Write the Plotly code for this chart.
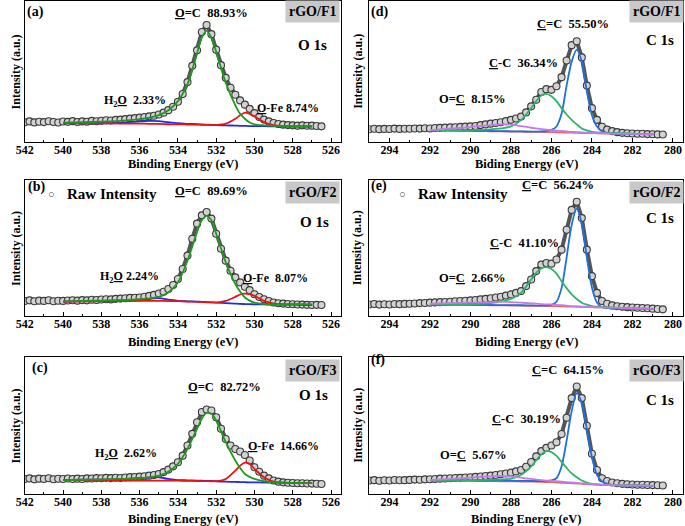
import numpy as np
import plotly.graph_objects as go
from plotly.subplots import make_subplots

# energy grids (eV)
o_raw_e = np.arange(542.0, 526.49, -0.25)
c_raw_e = np.arange(295.0, 280.49, -0.25)
o_fit_e = [540, 539, 538, 537, 536, 535.5, 535, 534.5, 534, 533.5, 533, 532.75, 532.5,
           532.25, 532, 531.5, 531, 530.75, 530.5, 530.25, 530, 529.5, 529, 528.5, 528, 527]
c_fit_e = [292, 291, 290, 289.5, 289, 288.5, 288, 287.5, 287, 286.75, 286.5, 286.25, 286,
           285.75, 285.5, 285.25, 285, 284.75, 284.5, 284.25, 284, 283.75, 283.5, 283, 282, 281]

# O 1s raw intensity (a.u.)
a_raw = [14.0, 14.6, 13.9, 14.4, 14.1, 14.7, 14.2, 13.8,
         14.5, 14.3, 14.8, 14.2, 14.6, 14.4, 15.0, 14.7,
         15.1, 15.4, 15.2, 15.7, 15.9, 16.2, 16.6, 16.9,
         17.3, 17.7, 18.2, 18.6, 19.5, 20.8, 22.6, 25.0,
         28.5, 34.0, 42.5, 54.0, 65.0, 78.0, 83.0, 76.5,
         65.5, 54.5, 45.5, 38.5, 33.5, 29.5, 26.5, 23.5,
         20.5, 17.8, 15.9, 14.6, 13.5, 12.8, 12.3, 12.0,
         11.8, 11.6, 11.8, 11.5, 11.6, 11.3, 11.1]
b_raw = [11.0, 11.5, 10.8, 11.3, 11.1, 11.6, 10.9, 11.2,
         11.1, 11.4, 11.6, 11.3, 11.7, 11.5, 12.0, 11.8,
         12.1, 12.3, 12.2, 12.6, 12.8, 13.0, 13.3, 13.4,
         13.6, 14.1, 14.8, 15.5, 16.5, 17.8, 19.8, 22.8,
         27.2, 34.6, 44.4, 56.8, 67.9, 74.0, 76.5, 71.6,
         60.5, 49.4, 40.7, 33.3, 28.4, 24.7, 21.5, 19.0,
         16.0, 14.0, 12.3, 11.0, 9.9, 9.4, 9.1, 8.8,
         8.6, 8.5, 8.4, 8.2, 8.1, 8.2, 8.1]
c_raw = [11.0, 11.4, 10.7, 11.2, 11.0, 11.5, 10.8, 11.1,
         11.0, 11.3, 10.9, 11.2, 11.0, 11.4, 11.3, 11.6,
         11.5, 11.8, 11.6, 11.9, 11.7, 12.0, 12.3, 12.4,
         12.7, 13.0, 13.4, 13.9, 14.6, 16.0, 17.8, 20.2,
         23.2, 28.0, 35.4, 43.9, 52.4, 59.8, 61.7, 61.0,
         56.0, 47.6, 40.2, 35.4, 32.9, 31.0, 28.5, 24.4,
         19.5, 16.2, 13.4, 11.4, 9.8, 9.0, 8.5, 8.2,
         8.0, 7.9, 7.8, 7.7, 7.6, 7.5, 7.3]

# O 1s fitted components
a_h2o = [13.5, 13.3, 13.3, 13.6, 14.6, 15.0, 14.8, 14.0, 13.3, 12.9, 12.6, 12.4, 12.3,
         12.2, 12.0, 11.8, 11.6, 11.5, 11.4, 11.3, 11.3, 11.2, 11.1, 11.0, 10.9, 10.9]
a_ofe = [13.5, 13.3, 13.2, 13.1, 13.0, 12.9, 12.8, 12.6, 12.5, 12.4, 12.3, 12.2, 12.1,
         12.0, 12.0, 13.0, 16.5, 19.0, 20.8, 20.0, 18.2, 14.2, 11.9, 11.2, 11.1, 11.1]
a_oc = [13.8, 14.0, 14.4, 15.0, 16.2, 17.2, 19.0, 22.5, 29.0, 41.0, 63.0, 74.0, 79.0,
        74.0, 64.0, 42.0, 26.0, 20.0, 16.5, 13.8, 12.5, 11.8, 11.5, 11.3, 11.3, 11.3]
b_h2o = [10.6, 10.9, 11.1, 11.4, 11.9, 12.6, 13.1, 12.1, 11.1, 10.8, 10.6, 10.4, 10.2,
         10.0, 9.9, 9.5, 9.1, 8.9, 8.8, 8.7, 8.6, 8.5, 8.4, 8.4, 8.3, 8.1]
b_ofe = [10.6, 10.8, 10.9, 11.0, 11.1, 11.1, 11.1, 11.0, 10.9, 10.6, 10.4, 10.3, 10.1,
         10.0, 9.9, 11.1, 14.1, 15.8, 16.5, 16.0, 14.8, 11.1, 9.1, 8.6, 8.5, 8.4]
b_oc = [10.8, 11.1, 11.3, 11.6, 12.3, 13.0, 14.0, 17.3, 24.7, 40.7, 61.7, 70.4, 73.6,
        70.4, 60.5, 39.5, 23.5, 18.0, 13.6, 11.3, 9.9, 8.8, 8.6, 8.6, 8.6, 8.6]
c_h2o = [10.2, 10.4, 10.5, 10.8, 11.5, 12.1, 12.2, 11.0, 10.2, 10.0, 9.8, 9.7, 9.6,
         9.5, 9.3, 9.0, 8.8, 8.7, 8.6, 8.5, 8.5, 8.4, 8.3, 8.2, 8.1, 8.0]
c_ofe = [10.2, 10.1, 10.0, 9.9, 9.8, 9.8, 9.8, 9.7, 9.7, 9.6, 9.5, 9.4, 9.4,
         9.3, 9.4, 11.0, 17.0, 20.7, 22.9, 22.0, 18.3, 12.2, 9.0, 8.3, 8.1, 8.0]
c_oc = [10.2, 10.4, 10.6, 11.0, 11.5, 12.2, 13.4, 16.3, 22.0, 32.9, 47.6, 54.9, 59.3,
        58.5, 53.7, 37.8, 24.4, 19.0, 14.6, 12.5, 11.0, 9.3, 8.5, 8.2, 8.1, 8.0]

# C 1s raw intensity (a.u.)
d_raw = [9.0, 9.4, 9.1, 9.3, 9.2, 9.5, 9.3, 9.4,
         9.4, 9.6, 9.5, 9.8, 9.6, 9.9, 10.0, 10.2,
         10.4, 10.5, 10.7, 10.9, 11.1, 11.4, 12.0, 12.5,
         13.0, 13.5, 14.0, 14.8, 15.7, 16.7, 18.0, 21.0,
         25.3, 30.0, 35.5, 37.5, 37.0, 39.5, 46.0, 57.8,
         68.7, 71.5, 60.0, 40.0, 24.0, 15.7, 10.8, 8.8,
         7.7, 7.0, 6.5, 6.2, 6.0, 5.9, 5.8, 5.6,
         5.5, 5.4, 5.3]
e_raw = [8.5, 8.8, 8.4, 8.6, 8.5, 8.8, 8.7, 8.9,
         9.0, 9.2, 9.5, 9.6, 9.8, 10.0, 10.2, 10.3,
         10.5, 10.8, 11.0, 11.2, 11.5, 11.8, 12.2, 12.6,
         13.0, 13.6, 14.1, 15.0, 15.9, 17.0, 18.3, 22.0,
         26.8, 33.0, 37.8, 39.0, 38.5, 41.5, 48.8, 63.4,
         78.0, 84.0, 72.0, 48.8, 29.3, 17.0, 11.0, 9.0,
         7.8, 7.2, 6.8, 6.5, 6.3, 6.1, 5.9, 5.7,
         5.4, 5.1, 4.9]
f_raw = [9.8, 10.1, 9.7, 10.0, 9.8, 10.2, 10.0, 10.1,
         10.3, 10.5, 10.4, 10.7, 10.8, 11.0, 11.2, 11.3,
         11.5, 11.7, 11.8, 12.0, 12.2, 12.5, 12.8, 13.1,
         13.4, 13.9, 14.4, 15.0, 15.6, 16.5, 17.5, 19.9,
         23.4, 27.5, 31.3, 33.7, 35.4, 37.8, 43.8, 55.7,
         70.0, 78.5, 70.0, 49.8, 29.4, 17.5, 11.5, 9.5,
         8.4, 7.8, 7.4, 7.1, 6.9, 6.8, 6.7, 6.6,
         6.5, 6.4, 6.2]

# C 1s fitted components
d_bg = [8.2, 8.0, 7.8, 7.7, 7.6, 7.5, 7.4, 7.3, 7.2, 7.15, 7.1, 7.05, 7.0,
        6.9, 6.8, 6.7, 6.6, 6.5, 6.4, 6.35, 6.3, 6.2, 6.1, 6.0, 5.8, 5.5]
d_csp2 = [8.4, 8.2, 8.0, 7.9, 7.8, 7.7, 7.6, 7.5, 7.4, 7.4, 7.5, 7.8, 8.6,
          11.0, 20.0, 40.0, 57.0, 65.5, 57.0, 36.0, 19.0, 11.0, 7.5, 6.2, 5.8, 5.5]
d_csp3 = [8.4, 8.2, 8.3, 8.6, 9.0, 9.6, 11.0, 15.5, 24.0, 29.0, 33.0, 34.2, 32.5,
          29.0, 24.0, 19.5, 15.7, 12.5, 9.6, 8.2, 7.2, 6.8, 6.5, 6.2, 5.9, 5.6]
d_oc = [8.4, 9.4, 10.6, 11.4, 12.0, 12.5, 12.3, 11.3, 10.1, 9.6, 9.1, 8.7, 8.4,
        8.1, 7.8, 7.5, 7.2, 7.0, 6.8, 6.6, 6.5, 6.3, 6.2, 6.0, 5.8, 5.5]
e_bg = [8.5, 8.3, 8.1, 8.0, 7.9, 7.8, 7.7, 7.6, 7.5, 7.45, 7.4, 7.35, 7.3,
        7.2, 7.1, 7.0, 6.9, 6.8, 6.7, 6.6, 6.5, 6.4, 6.3, 6.1, 5.6, 5.3]
e_csp2 = [8.5, 8.4, 8.3, 8.2, 8.1, 8.0, 8.0, 7.9, 7.8, 7.7, 7.6, 7.7, 8.2,
          10.5, 20.5, 43.0, 67.0, 79.0, 68.0, 43.0, 21.0, 10.0, 6.5, 5.5, 5.2, 5.0]
e_csp3 = [8.5, 8.4, 8.5, 8.9, 9.5, 10.5, 12.5, 17.0, 26.8, 31.7, 35.0, 36.0, 34.6,
          31.2, 25.6, 20.5, 15.9, 12.5, 9.8, 8.3, 7.3, 6.9, 6.6, 6.2, 5.5, 5.2]
e_oc = [9.0, 9.4, 9.8, 10.0, 10.2, 10.5, 10.2, 9.8, 9.3, 9.1, 8.8, 8.6, 8.5,
        8.2, 7.9, 7.6, 7.3, 7.1, 6.9, 6.7, 6.6, 6.4, 6.3, 6.1, 5.6, 5.4]
f_bg = [10.0, 9.8, 9.6, 9.5, 9.4, 9.3, 9.2, 9.1, 9.0, 8.9, 8.8, 8.7, 8.6,
        8.4, 8.2, 8.0, 7.8, 7.6, 7.4, 7.2, 7.0, 6.8, 6.7, 6.5, 6.2, 6.0]
f_csp2 = [10.0, 9.9, 9.9, 9.8, 9.8, 9.8, 9.7, 9.6, 9.5, 9.5, 9.5, 9.6, 9.9,
          11.5, 20.0, 39.0, 60.5, 73.7, 66.5, 47.4, 27.0, 13.9, 9.1, 6.7, 6.2, 6.0]
f_csp3 = [10.0, 10.0, 10.1, 10.2, 10.4, 10.6, 11.2, 13.9, 19.9, 24.6, 28.9, 31.3, 30.6,
          27.8, 23.4, 19.0, 15.0, 12.2, 9.8, 8.4, 7.4, 7.0, 6.7, 6.5, 6.2, 6.0]
f_oc = [10.3, 11.0, 12.0, 12.5, 12.9, 13.2, 12.7, 12.0, 11.0, 10.5, 10.1, 9.8, 9.6,
        9.3, 9.0, 8.7, 8.4, 8.1, 7.8, 7.5, 7.2, 7.0, 6.8, 6.5, 6.2, 6.0]

W, H = 685, 526
SERIF = "Liberation Serif"
O_BLUE, O_RED, O_GREEN = "#1f2de6", "#f01010", "#1f9a1f"
C_BLUE, C_GREEN, C_PURPLE, C_BG = "#1f6fde", "#2fb36a", "#c57ae6", "#e06a6a"

fig = make_subplots(rows=3, cols=2)

o_panels = [(1, a_raw, a_h2o, a_ofe, a_oc), (2, b_raw, b_h2o, b_ofe, b_oc), (3, c_raw, c_h2o, c_ofe, c_oc)]
c_panels = [(1, d_raw, d_bg, d_csp2, d_csp3, d_oc), (2, e_raw, e_bg, e_csp2, e_csp3, e_oc),
            (3, f_raw, f_bg, f_csp2, f_csp3, f_oc)]

raw_marker = dict(symbol="circle", size=7, color="#d2d2d2", line=dict(color="#3a3a3a", width=1.1))
raw_line = dict(color="#555555", width=4)


def raw_trace(x, y):
    return go.Scatter(x=x, y=y, mode="lines+markers", marker=raw_marker, line=raw_line,
                      showlegend=False, hoverinfo="skip")


def fit_line(x, y, color):
    return go.Scatter(x=x, y=y, mode="lines", line=dict(color=color, width=1.8, shape="spline", smoothing=0.8),
                      showlegend=False, hoverinfo="skip")


for row, raw, h2o, ofe, oc in o_panels:
    fig.add_trace(raw_trace(o_raw_e, raw), row=row, col=1)
    fig.add_trace(fit_line(o_fit_e, h2o, O_BLUE), row=row, col=1)
    fig.add_trace(fit_line(o_fit_e, ofe, O_RED), row=row, col=1)
    fig.add_trace(fit_line(o_fit_e, oc, O_GREEN), row=row, col=1)

for row, raw, bg, csp2, csp3, oc in c_panels:
    fig.add_trace(raw_trace(c_raw_e, raw), row=row, col=2)
    fig.add_trace(fit_line(c_fit_e, bg, C_BG), row=row, col=2)
    fig.add_trace(fit_line(c_fit_e, csp2, C_BLUE), row=row, col=2)
    fig.add_trace(fit_line(c_fit_e, csp3, C_GREEN), row=row, col=2)
    fig.add_trace(fit_line(c_fit_e, oc, C_PURPLE), row=row, col=2)

# panel geometry (pixels)
col_x = {1: (16, 336), 2: (365, 683)}
row_y = {1: (1, 142), 2: (180, 316), 3: (357, 494)}

tickfont = dict(family=SERIF, size=12, color="black", weight="bold")
for row in (1, 2, 3):
    for col in (1, 2):
        x0, x1 = col_x[col]
        y0, y1 = row_y[row]
        if col == 1:
            rng, t0 = [542, 525.5], 526
        else:
            rng, t0 = [295, 279.5], 280
        fig.update_xaxes(domain=[x0 / W, x1 / W], range=rng, tickmode="linear", tick0=t0, dtick=2,
                         showline=True, linecolor="black", linewidth=1, mirror=True,
                         ticks="inside", ticklen=4, tickcolor="black", tickfont=tickfont,
                         ticklabelstandoff=-3,
                         minor=dict(ticks="inside", ticklen=2.5, dtick=1, tickcolor="black"),
                         showgrid=False, zeroline=False, row=row, col=col)
        fig.update_yaxes(domain=[1 - y1 / H, 1 - y0 / H], range=[0, 100], showline=True, linecolor="black",
                         linewidth=1, mirror=True, ticks="", showticklabels=False, showgrid=False,
                         zeroline=False, row=row, col=col)


def U(s):
    return '<span style="text-decoration:underline">' + s + '</span>'


anns = []


def ann(text, x, y, size, xanchor="center", bg=None, angle=0, color="black"):
    d = dict(text="<b>" + text + "</b>", x=x / W, y=1 - y / H, xref="paper", yref="paper",
             xanchor=xanchor, yanchor="middle", showarrow=False, textangle=angle,
             font=dict(family=SERIF, size=size, color=color))
    if bg:
        d.update(bgcolor=bg, borderpad=3)
    anns.append(d)


BOX = "#c8c8c8"
# (a)
ann("(a)", 27, 12, 14)
ann(U("O") + "=C  88.93%", 205, 13, 12.5)
ann("rGO/F1", 308, 11, 14, bg=BOX)
ann("O 1s", 308, 45, 15)
ann("H<sub>2</sub>" + U("O") + "  2.33%", 128, 101, 12)
ann(U("O") + "-Fe 8.74%", 283, 108, 12)
# (b)
ann("(b)", 28, 187, 14)
ann("○", 43, 194, 11, color="#444444")
ann("Raw Intensity", 57, 194, 15, xanchor="left")
ann(U("O") + "=C  89.69%", 205, 191, 12.5)
ann("rGO/F2", 308, 192, 14, bg=BOX)
ann("O 1s", 310, 222, 15)
ann("H<sub>2</sub>" + U("O") + " 2.24%", 122, 277, 12)
ann(U("O") + "-Fe  8.07%", 270, 278, 12)
# (c)
ann("(c)", 31, 368, 14)
ann(U("O") + "=C  82.72%", 218, 387, 12.5)
ann("rGO/F3", 308, 370, 14, bg=BOX)
ann("O 1s", 309, 395, 15)
ann("H<sub>2</sub>" + U("O") + "  2.62%", 119, 454, 12)
ann(U("O") + "-Fe  14.66%", 278, 446, 12)
# (d)
ann("(d)", 375, 12, 14)
ann(U("C") + "=C  55.50%", 572, 24, 12.5)
ann("rGO/F1", 656, 11, 14, bg=BOX)
ann("C 1s", 660, 40, 15)
ann(U("C") + "-C  36.34%", 521, 63, 12.5)
ann("O=" + U("C") + "  8.15%", 470, 99, 12.5)
# (e)
ann("(e)", 375, 186, 14)
ann("○", 399, 194, 11, color="#444444")
ann("Raw Intensity", 412, 194, 15, xanchor="left")
ann(U("C") + "=C  56.24%", 556, 185, 12.5)
ann("rGO/F2", 656, 192, 14, bg=BOX)
ann("C 1s", 660, 218, 15)
ann(U("C") + "-C  41.10%", 522, 243, 12.5)
ann("O=" + U("C") + "  2.66%", 470, 278, 12.5)
# (f)
ann("(f)", 374, 360, 14)
ann(U("C") + "=C  64.15%", 566, 370, 12.5)
ann("rGO/F3", 656, 370, 14, bg=BOX)
ann("C 1s", 660, 400, 15)
ann(U("C") + "-C  30.19%", 524, 419, 12.5)
ann("O=" + U("C") + "  5.67%", 471, 455, 12.5)

# axis titles
for y in (164, 342, 519):
    ann("Binding Energy (eV)", 176, y, 12.5)
ann("Biding Energy (eV)", 524, 164, 12.5)
ann("Biding Energy (eV)", 524, 342, 12.5)
ann("Binding Energy (eV)", 524, 519, 12.5)
for row in (1, 2, 3):
    yc = sum(row_y[row]) / 2
    ann("Intensity (a.u.)", 7, yc, 12, angle=-90)
    ann("Intensity (a.u.)", 353, yc, 12, angle=-90)

fig.update_layout(width=W, height=H, margin=dict(l=0, r=0, t=0, b=0), plot_bgcolor="white",
                  paper_bgcolor="white", showlegend=False, annotations=anns)

fig.write_html("out.html", config={"displayModeBar": False},
               post_script="document.body.style.margin='0';document.body.style.overflow='hidden';")
